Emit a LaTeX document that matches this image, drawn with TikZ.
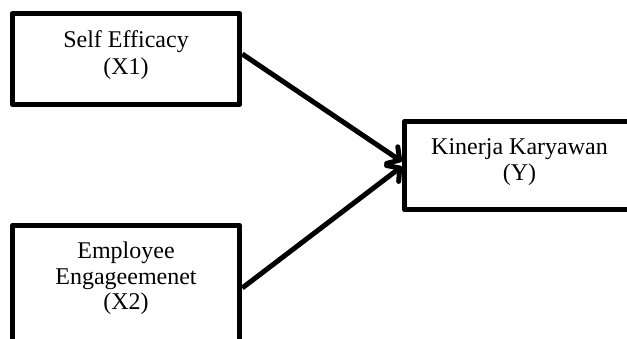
\documentclass[tikz,border=0pt]{standalone}
\usepackage{fontspec}
\setmainfont{Liberation Serif}
\usetikzlibrary{arrows.meta,calc}
\begin{document}
\begin{tikzpicture}[x=1pt,y=-1pt,
  box/.style={draw=black, line width=5.5pt, line join=round, inner sep=0pt, fill=white},
  lbl/.style={font=\fontsize{24}{26}\selectfont, inner sep=0pt, anchor=base, text=black},
  conn/.style={draw=black, line width=5pt, -{Straight Barb[length=9pt,width=20pt,round]}}]
\clip (0,0) rectangle (627,339);
\fill[white] (0,0) rectangle (627,339);
\node[box, minimum width=227pt, minimum height=91pt] (b1) at (126,59) {};
\node[box, minimum width=227pt, minimum height=125pt] (b2) at (126,288) {};
\node[box, minimum width=230pt, minimum height=88pt] (k) at (519.5,165.5) {};
\node[lbl] (t1a) at (126,48) {Self Efficacy};
\node[lbl] (t1b) at (126,75) {(X1)};
\node[lbl] (t2a) at (126,259) {Employee};
\node[lbl] (t2b) at (126,285) {Engageemenet};
\node[lbl] (t2c) at (126,310) {(X2)};
\node[lbl] (tka) at (519.5,155) {Kinerja Karyawan};
\node[lbl] (tkb) at (519.5,181) {(Y)};
\draw[conn] ($(b1.east)+(0,-5)$) -- ($(k.west)+(0,-4)$);
\draw[conn] (b2.east) -- ($(k.west)+(0,1)$);
\end{tikzpicture}
\end{document}
